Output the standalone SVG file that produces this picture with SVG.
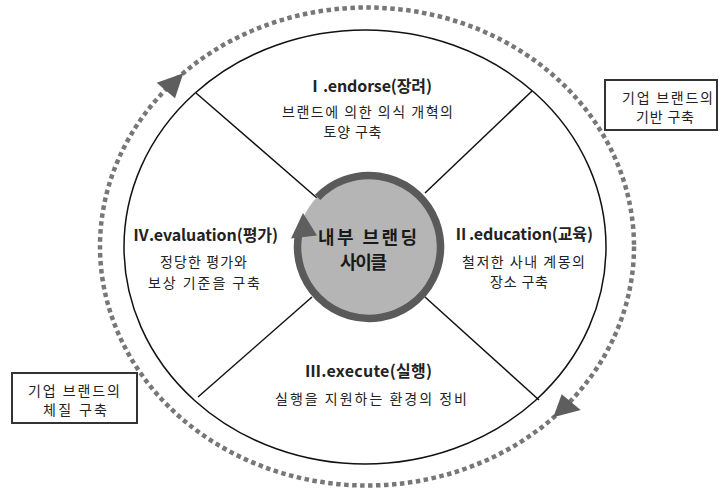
<svg xmlns="http://www.w3.org/2000/svg" width="719" height="488" viewBox="0 0 719 488">
  <style>
    .kr { font-family: "Noto Sans CJK KR", "Noto Sans", sans-serif; fill: #222; text-anchor: middle; }
    .title { font-size: 16px; font-weight: bold; }
    .sub { font-size: 14px; }
    .core { font-size: 18px; font-weight: bold; fill: #1a1a1a; }
    .frame { fill: none; stroke: #111; stroke-width: 1.5; }
    .spoke { stroke: #111; stroke-width: 1.5; }
    .dots { fill: none; stroke: #777; stroke-width: 4.5; stroke-dasharray: 4.5 3.5; }
    .head { fill: #5e5e5e; }
    .box { fill: #fff; stroke: #333; stroke-width: 2; }
  </style>

  <rect width="719" height="488" fill="#fff"/>

  <!-- outer dotted cycle with its two arrowheads -->
  <g id="outer-cycle">
    <ellipse class="dots" cx="367" cy="246.5" rx="267" ry="239"/>
    <polygon class="head" points="156.7,82.7 183.3,73.3 175,98.3"/>
    <polygon class="head" points="561.7,394.3 580.7,410 553.3,417.3"/>
  </g>

  <!-- main ellipse -->
  <g id="frame">
    <ellipse class="frame" cx="365" cy="247" rx="241" ry="217"/>
  </g>

  <!-- spokes dividing the four quadrants -->
  <g id="connectors">
    <line class="spoke" x1="196" y1="93" x2="317" y2="198"/>
    <line class="spoke" x1="532" y1="91" x2="425" y2="193"/>
    <line class="spoke" x1="198" y1="397" x2="312" y2="297"/>
    <line class="spoke" x1="539" y1="400" x2="425" y2="297"/>
  </g>

  <!-- central cycle -->
  <g id="core">
    <circle cx="369" cy="247" r="72" fill="#b5b5b5"/>
    <path d="M317.6,197.3 A71.5,71.5 0 1 1 298.4,235.8" fill="none" stroke="#5a5a5a" stroke-width="7.5"/>
    <polygon class="head" points="291,238.5 317,235.5 303,213"/>
    <text class="kr core" x="367.5" y="244" textLength="99" lengthAdjust="spacing">내부 브랜딩</text>
    <text class="kr core" x="363.5" y="269" textLength="47" lengthAdjust="spacing">사이클</text>
  </g>

  <g id="endorse">
    <text class="kr title" x="369.5" y="92" textLength="125" lengthAdjust="spacing">Ⅰ.endorse(장려)</text>
    <text class="kr sub" x="367.5" y="117" textLength="171" lengthAdjust="spacing">브랜드에 의한 의식 개혁의</text>
    <text class="kr sub" x="352.5" y="137" textLength="58" lengthAdjust="spacing">토양 구축</text>
  </g>

  <g id="education">
    <text class="kr title" x="523" y="240" textLength="140" lengthAdjust="spacing">Ⅱ.education(교육)</text>
    <text class="kr sub" x="523.5" y="267" textLength="123" lengthAdjust="spacing">철저한 사내 계몽의</text>
    <text class="kr sub" x="519" y="287" textLength="58" lengthAdjust="spacing">장소 구축</text>
  </g>

  <g id="execute">
    <text class="kr title" x="368.5" y="377" textLength="127" lengthAdjust="spacing">Ⅲ.execute(실행)</text>
    <text class="kr sub" x="371" y="404" textLength="192" lengthAdjust="spacing">실행을 지원하는 환경의 정비</text>
  </g>

  <g id="evaluation">
    <text class="kr title" x="205.5" y="241" textLength="145" lengthAdjust="spacing">Ⅳ.evaluation(평가)</text>
    <text class="kr sub" x="203.5" y="267" textLength="87" lengthAdjust="spacing">정당한 평가와</text>
    <text class="kr sub" x="204" y="288" textLength="112" lengthAdjust="spacing">보상 기준을 구축</text>
  </g>

  <g id="foundation-note">
    <rect class="box" x="605" y="80" width="112" height="50"/>
    <text class="kr sub" x="667.5" y="103" textLength="91" lengthAdjust="spacing">기업 브랜드의</text>
    <text class="kr sub" x="665" y="122" textLength="58" lengthAdjust="spacing">기반 구축</text>
  </g>

  <g id="constitution-note">
    <rect class="box" x="12" y="373" width="125" height="50"/>
    <text class="kr sub" x="74" y="396" textLength="92" lengthAdjust="spacing">기업 브랜드의</text>
    <text class="kr sub" x="75" y="415" textLength="64" lengthAdjust="spacing">체질 구축</text>
  </g>
</svg>
